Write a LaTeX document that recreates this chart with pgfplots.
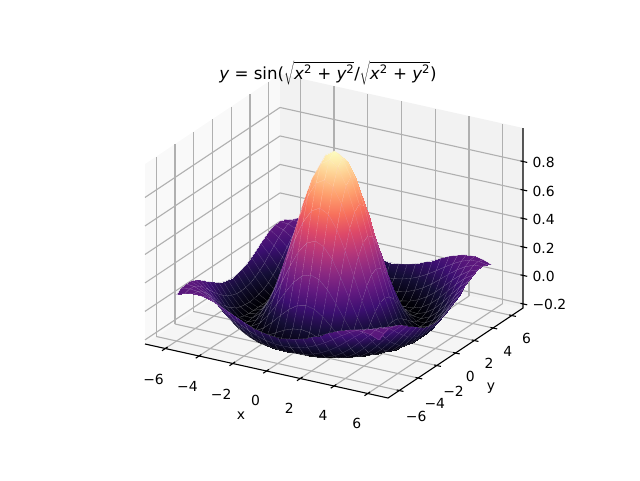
\documentclass[border=0pt]{standalone}
\usepackage{fontspec}
\setmainfont{DejaVu Sans}
\usepackage{pgfplots}
\pgfplotsset{compat=1.18}
\usepgfplotslibrary{patchplots}
\definecolor{gridc}{rgb}{0.69,0.69,0.69}
\pgfplotsset{colormap={magma}{
 rgb255=(0,0,4) rgb255=(20,14,54) rgb255=(59,15,112) rgb255=(100,26,128) rgb255=(140,41,129)
 rgb255=(183,55,121) rgb255=(222,73,104) rgb255=(247,112,92) rgb255=(254,159,109) rgb255=(254,207,146) rgb255=(252,253,191)}}
\newcommand{\rad}{$\sqrt{\hbox{{\itshape x}\textsuperscript{2} + {\itshape y}\textsuperscript{2}}}$}
\newcommand{\ttl}{{\itshape y} = sin(\rad/\rad)}
\begin{document}
\begin{tikzpicture}[x=1pt,y=1pt]
\begin{axis}[
 at={(334pt,186.6pt)}, anchor=origin,
 x={(16.875pt,-3.75pt)}, y={(9.375pt,6.25pt)}, z={(0pt,142.4pt)},
 xmin=-7.2,xmax=7.2,ymin=-7.2,ymax=7.2,zmin=-0.229,zmax=1.035,
 set layers=standard,
 clip=false,
 axis lines=box,
 axis line style={draw=none},
 font=\fontsize{13.89}{16}\selectfont,
 grid=major,
 grid style={gridc,line width=1.1pt},
 xtick={-6,-4,-2,0,2,4,6}, ytick={-6,-4,-2,0,2,4,6}, ztick={-0.2,0,0.2,0.4,0.6,0.8},
 xticklabels={−6,−4,−2,0,2,4,6}, yticklabels={−6,−4,−2,0,2,4,6}, zticklabels={−0.2,0.0,0.2,0.4,0.6,0.8},
 xtick pos=lower, ytick pos=lower, ztick pos=right, zticklabel pos=right,
 major tick length=0pt,
 tick style={draw=none},
 xticklabel style={xshift=-6pt,yshift=-20pt},
 yticklabel style={xshift=7.5pt,yshift=-14pt},
 zticklabel style={xshift=6pt,yshift=-4pt},
 xlabel={x}, ylabel={y},
 xlabel style={at={(axis cs:0,0,0)},anchor=center,xshift=-93pt,yshift=-122.6pt},
 ylabel style={at={(axis cs:0,0,0)},anchor=center,rotate=-90,xshift=157pt,yshift=-94.6pt},
 title={\ttl},
 title style={at={(axis cs:0,0,0)},anchor=center,font=\fontsize{16.67}{20}\selectfont,xshift=-6pt,yshift=214pt},
 colormap name=magma,
 point meta min=-0.217, point meta max=1,
 unbounded coords=jump,
]
\addplot3[on layer=axis background,fill=black!2.5,draw=none,forget plot] coordinates {(-7.2,-7.2,-0.229)(-7.2,7.2,-0.229)(-7.2,7.2,1.035)(-7.2,-7.2,1.035)(-7.2,-7.2,-0.229)};
\addplot3[on layer=axis background,fill=black!5,draw=none,forget plot] coordinates {(-7.2,7.2,-0.229)(7.2,7.2,-0.229)(7.2,7.2,1.035)(-7.2,7.2,1.035)(-7.2,7.2,-0.229)};
\addplot3[on layer=axis background,fill=black!3.75,draw=none,forget plot] coordinates {(-7.2,-7.2,-0.229)(7.2,-7.2,-0.229)(7.2,7.2,-0.229)(-7.2,7.2,-0.229)(-7.2,-7.2,-0.229)};
\addplot3[black,line width=1.1pt,forget plot] coordinates {(-7.2,-7.2,-0.229)(7.2,-7.2,-0.229)(7.2,7.2,-0.229)(7.2,7.2,1.035)};
\addplot3[black,line width=1.1pt,forget plot] table[row sep=\\]{
x y z\\
-6 -7.55 -.229\\ -6 -6.95 -.229\\ nan nan nan\\ -4 -7.55 -.229\\ -4 -6.95 -.229\\ nan nan nan\\ -2 -7.55 -.229\\ -2 -6.95 -.229\\ nan nan nan\\ 0 -7.55 -.229\\ 0 -6.95 -.229\\ nan nan nan\\ 2 -7.55 -.229\\ 2 -6.95 -.229\\ nan nan nan\\ 4 -7.55 -.229\\ 4 -6.95 -.229\\ nan nan nan\\ 6 -7.55 -.229\\ 6 -6.95 -.229\\ nan nan nan\\
7.05 -6 -.229\\ 7.45 -6 -.229\\ nan nan nan\\ 7.05 -4 -.229\\ 7.45 -4 -.229\\ nan nan nan\\ 7.05 -2 -.229\\ 7.45 -2 -.229\\ nan nan nan\\ 7.05 0 -.229\\ 7.45 0 -.229\\ nan nan nan\\ 7.05 2 -.229\\ 7.45 2 -.229\\ nan nan nan\\ 7.05 4 -.229\\ 7.45 4 -.229\\ nan nan nan\\ 7.05 6 -.229\\ 7.45 6 -.229\\ nan nan nan\\
7.05 7.2 -.2\\ 7.45 7.2 -.2\\ nan nan nan\\ 7.05 7.2 0\\ 7.45 7.2 0\\ nan nan nan\\ 7.05 7.2 .2\\ 7.45 7.2 .2\\ nan nan nan\\ 7.05 7.2 .4\\ 7.45 7.2 .4\\ nan nan nan\\ 7.05 7.2 .6\\ 7.45 7.2 .6\\ nan nan nan\\ 7.05 7.2 .8\\ 7.45 7.2 .8\\
};
\addplot3[surf,shader=faceted interp,faceted color=mapped color!65!white,line width=0.1pt,z buffer=sort,mesh/rows=25,mesh/cols=25] table[row sep=\\]{
x y z\\
-6 -6 .095\\ -5.5 -6 .118\\ -5 -6 .128\\ -4.5 -6 .125\\ -4 -6 .111\\ -3.5 -6 .089\\ -3 -6 .062\\ -2.5 -6 .033\\ -2 -6 .007\\ -1.5 -6 -.016\\ -1 -6 -.033\\ -.5 -6 -.043\\ 0 -6 -.047\\ .5 -6 -.043\\ 1 -6 -.033\\ 1.5 -6 -.016\\ 2 -6 .007\\ 2.5 -6 .033\\ 3 -6 .062\\ 3.5 -6 .089\\ 4 -6 .111\\ 4.5 -6 .125\\ 5 -6 .128\\ 5.5 -6 .118\\ 6 -6 .095\\
-6 -5.5 .118\\ -5.5 -5.5 .128\\ -5 -5.5 .123\\ -4.5 -5.5 .103\\ -4 -5.5 .073\\ -3.5 -5.5 .036\\ -3 -5.5 -.003\\ -2.5 -5.5 -.040\\ -2 -5.5 -.071\\ -1.5 -5.5 -.097\\ -1 -5.5 -.114\\ -.5 -5.5 -.125\\ 0 -5.5 -.128\\ .5 -5.5 -.125\\ 1 -5.5 -.114\\ 1.5 -5.5 -.097\\ 2 -5.5 -.071\\ 2.5 -5.5 -.040\\ 3 -5.5 -.003\\ 3.5 -5.5 .036\\ 4 -5.5 .073\\ 4.5 -5.5 .103\\ 5 -5.5 .123\\ 5.5 -5.5 .128\\ 6 -5.5 .118\\
-6 -5 .128\\ -5.5 -5 .123\\ -5 -5 .100\\ -4.5 -5 .064\\ -4 -5 .019\\ -3.5 -5 -.029\\ -3 -5 -.075\\ -2.5 -5 -.114\\ -2 -5 -.145\\ -1.5 -5 -.167\\ -1 -5 -.182\\ -.5 -5 -.189\\ 0 -5 -.192\\ .5 -5 -.189\\ 1 -5 -.182\\ 1.5 -5 -.167\\ 2 -5 -.145\\ 2.5 -5 -.114\\ 3 -5 -.075\\ 3.5 -5 -.029\\ 4 -5 .019\\ 4.5 -5 .064\\ 5 -5 .100\\ 5.5 -5 .123\\ 6 -5 .128\\
-6 -4.5 .125\\ -5.5 -4.5 .103\\ -5 -4.5 .064\\ -4.5 -4.5 .013\\ -4 -4.5 -.043\\ -3.5 -4.5 -.097\\ -3 -4.5 -.142\\ -2.5 -4.5 -.176\\ -2 -4.5 -.199\\ -1.5 -4.5 -.211\\ -1 -4.5 -.216\\ -.5 -4.5 -.217\\ 0 -4.5 -.217\\ .5 -4.5 -.217\\ 1 -4.5 -.216\\ 1.5 -4.5 -.211\\ 2 -4.5 -.199\\ 2.5 -4.5 -.176\\ 3 -4.5 -.142\\ 3.5 -4.5 -.097\\ 4 -4.5 -.043\\ 4.5 -4.5 .013\\ 5 -4.5 .064\\ 5.5 -4.5 .103\\ 6 -4.5 .125\\
-6 -4 .111\\ -5.5 -4 .073\\ -5 -4 .019\\ -4.5 -4 -.043\\ -4 -4 -.104\\ -3.5 -4 -.155\\ -3 -4 -.192\\ -2.5 -4 -.212\\ -2 -4 -.217\\ -1.5 -4 -.212\\ -1 -4 -.202\\ -.5 -4 -.193\\ 0 -4 -.189\\ .5 -4 -.193\\ 1 -4 -.202\\ 1.5 -4 -.212\\ 2 -4 -.217\\ 2.5 -4 -.212\\ 3 -4 -.192\\ 3.5 -4 -.155\\ 4 -4 -.104\\ 4.5 -4 -.043\\ 5 -4 .019\\ 5.5 -4 .073\\ 6 -4 .111\\
-6 -3.5 .089\\ -5.5 -3.5 .036\\ -5 -3.5 -.029\\ -4.5 -3.5 -.097\\ -4 -3.5 -.155\\ -3.5 -3.5 -.196\\ -3 -3.5 -.216\\ -2.5 -3.5 -.213\\ -2 -3.5 -.193\\ -1.5 -3.5 -.162\\ -1 -3.5 -.131\\ -.5 -3.5 -.109\\ 0 -3.5 -.100\\ .5 -3.5 -.109\\ 1 -3.5 -.131\\ 1.5 -3.5 -.162\\ 2 -3.5 -.193\\ 2.5 -3.5 -.213\\ 3 -3.5 -.216\\ 3.5 -3.5 -.196\\ 4 -3.5 -.155\\ 4.5 -3.5 -.097\\ 5 -3.5 -.029\\ 5.5 -3.5 .036\\ 6 -3.5 .089\\
-6 -3 .062\\ -5.5 -3 -.003\\ -5 -3 -.075\\ -4.5 -3 -.142\\ -4 -3 -.192\\ -3.5 -3 -.216\\ -3 -3 -.210\\ -2.5 -3 -.177\\ -2 -3 -.124\\ -1.5 -3 -.063\\ -1 -3 -.007\\ -.5 -3 .033\\ 0 -3 .047\\ .5 -3 .033\\ 1 -3 -.007\\ 1.5 -3 -.063\\ 2 -3 -.124\\ 2.5 -3 -.177\\ 3 -3 -.210\\ 3.5 -3 -.216\\ 4 -3 -.192\\ 4.5 -3 -.142\\ 5 -3 -.075\\ 5.5 -3 -.003\\ 6 -3 .062\\
-6 -2.5 .033\\ -5.5 -2.5 -.040\\ -5 -2.5 -.114\\ -4.5 -2.5 -.176\\ -4 -2.5 -.212\\ -3.5 -2.5 -.213\\ -3 -2.5 -.177\\ -2.5 -2.5 -.109\\ -2 -2.5 -.019\\ -1.5 -2.5 .077\\ -1 -2.5 .161\\ -.5 -2.5 .219\\ 0 -2.5 .239\\ .5 -2.5 .219\\ 1 -2.5 .161\\ 1.5 -2.5 .077\\ 2 -2.5 -.019\\ 2.5 -2.5 -.109\\ 3 -2.5 -.177\\ 3.5 -2.5 -.213\\ 4 -2.5 -.212\\ 4.5 -2.5 -.176\\ 5 -2.5 -.114\\ 5.5 -2.5 -.040\\ 6 -2.5 .033\\
-6 -2 .007\\ -5.5 -2 -.071\\ -5 -2 -.145\\ -4.5 -2 -.199\\ -4 -2 -.217\\ -3.5 -2 -.193\\ -3 -2 -.124\\ -2.5 -2 -.019\\ -2 -2 .109\\ -1.5 -2 .239\\ -1 -2 .352\\ -.5 -2 .428\\ 0 -2 .455\\ .5 -2 .428\\ 1 -2 .352\\ 1.5 -2 .239\\ 2 -2 .109\\ 2.5 -2 -.019\\ 3 -2 -.124\\ 3.5 -2 -.193\\ 4 -2 -.217\\ 4.5 -2 -.199\\ 5 -2 -.145\\ 5.5 -2 -.071\\ 6 -2 .007\\
-6 -1.5 -.016\\ -5.5 -1.5 -.097\\ -5 -1.5 -.167\\ -4.5 -1.5 -.211\\ -4 -1.5 -.212\\ -3.5 -1.5 -.162\\ -3 -1.5 -.063\\ -2.5 -1.5 .077\\ -2 -1.5 .239\\ -1.5 -1.5 .402\\ -1 -1.5 .540\\ -.5 -1.5 .632\\ 0 -1.5 .665\\ .5 -1.5 .632\\ 1 -1.5 .540\\ 1.5 -1.5 .402\\ 2 -1.5 .239\\ 2.5 -1.5 .077\\ 3 -1.5 -.063\\ 3.5 -1.5 -.162\\ 4 -1.5 -.212\\ 4.5 -1.5 -.211\\ 5 -1.5 -.167\\ 5.5 -1.5 -.097\\ 6 -1.5 -.016\\
-6 -1 -.033\\ -5.5 -1 -.114\\ -5 -1 -.182\\ -4.5 -1 -.216\\ -4 -1 -.202\\ -3.5 -1 -.131\\ -3 -1 -.007\\ -2.5 -1 .161\\ -2 -1 .352\\ -1.5 -1 .540\\ -1 -1 .699\\ -.5 -1 .805\\ 0 -1 .841\\ .5 -1 .805\\ 1 -1 .699\\ 1.5 -1 .540\\ 2 -1 .352\\ 2.5 -1 .161\\ 3 -1 -.007\\ 3.5 -1 -.131\\ 4 -1 -.202\\ 4.5 -1 -.216\\ 5 -1 -.182\\ 5.5 -1 -.114\\ 6 -1 -.033\\
-6 -.5 -.043\\ -5.5 -.5 -.125\\ -5 -.5 -.189\\ -4.5 -.5 -.217\\ -4 -.5 -.193\\ -3.5 -.5 -.109\\ -3 -.5 .033\\ -2.5 -.5 .219\\ -2 -.5 .428\\ -1.5 -.5 .632\\ -1 -.5 .805\\ -.5 -.5 .919\\ 0 -.5 .959\\ .5 -.5 .919\\ 1 -.5 .805\\ 1.5 -.5 .632\\ 2 -.5 .428\\ 2.5 -.5 .219\\ 3 -.5 .033\\ 3.5 -.5 -.109\\ 4 -.5 -.193\\ 4.5 -.5 -.217\\ 5 -.5 -.189\\ 5.5 -.5 -.125\\ 6 -.5 -.043\\
-6 0 -.047\\ -5.5 0 -.128\\ -5 0 -.192\\ -4.5 0 -.217\\ -4 0 -.189\\ -3.5 0 -.100\\ -3 0 .047\\ -2.5 0 .239\\ -2 0 .455\\ -1.5 0 .665\\ -1 0 .841\\ -.5 0 .959\\ 0 0 1.000\\ .5 0 .959\\ 1 0 .841\\ 1.5 0 .665\\ 2 0 .455\\ 2.5 0 .239\\ 3 0 .047\\ 3.5 0 -.100\\ 4 0 -.189\\ 4.5 0 -.217\\ 5 0 -.192\\ 5.5 0 -.128\\ 6 0 -.047\\
-6 .5 -.043\\ -5.5 .5 -.125\\ -5 .5 -.189\\ -4.5 .5 -.217\\ -4 .5 -.193\\ -3.5 .5 -.109\\ -3 .5 .033\\ -2.5 .5 .219\\ -2 .5 .428\\ -1.5 .5 .632\\ -1 .5 .805\\ -.5 .5 .919\\ 0 .5 .959\\ .5 .5 .919\\ 1 .5 .805\\ 1.5 .5 .632\\ 2 .5 .428\\ 2.5 .5 .219\\ 3 .5 .033\\ 3.5 .5 -.109\\ 4 .5 -.193\\ 4.5 .5 -.217\\ 5 .5 -.189\\ 5.5 .5 -.125\\ 6 .5 -.043\\
-6 1 -.033\\ -5.5 1 -.114\\ -5 1 -.182\\ -4.5 1 -.216\\ -4 1 -.202\\ -3.5 1 -.131\\ -3 1 -.007\\ -2.5 1 .161\\ -2 1 .352\\ -1.5 1 .540\\ -1 1 .699\\ -.5 1 .805\\ 0 1 .841\\ .5 1 .805\\ 1 1 .699\\ 1.5 1 .540\\ 2 1 .352\\ 2.5 1 .161\\ 3 1 -.007\\ 3.5 1 -.131\\ 4 1 -.202\\ 4.5 1 -.216\\ 5 1 -.182\\ 5.5 1 -.114\\ 6 1 -.033\\
-6 1.5 -.016\\ -5.5 1.5 -.097\\ -5 1.5 -.167\\ -4.5 1.5 -.211\\ -4 1.5 -.212\\ -3.5 1.5 -.162\\ -3 1.5 -.063\\ -2.5 1.5 .077\\ -2 1.5 .239\\ -1.5 1.5 .402\\ -1 1.5 .540\\ -.5 1.5 .632\\ 0 1.5 .665\\ .5 1.5 .632\\ 1 1.5 .540\\ 1.5 1.5 .402\\ 2 1.5 .239\\ 2.5 1.5 .077\\ 3 1.5 -.063\\ 3.5 1.5 -.162\\ 4 1.5 -.212\\ 4.5 1.5 -.211\\ 5 1.5 -.167\\ 5.5 1.5 -.097\\ 6 1.5 -.016\\
-6 2 .007\\ -5.5 2 -.071\\ -5 2 -.145\\ -4.5 2 -.199\\ -4 2 -.217\\ -3.5 2 -.193\\ -3 2 -.124\\ -2.5 2 -.019\\ -2 2 .109\\ -1.5 2 .239\\ -1 2 .352\\ -.5 2 .428\\ 0 2 .455\\ .5 2 .428\\ 1 2 .352\\ 1.5 2 .239\\ 2 2 .109\\ 2.5 2 -.019\\ 3 2 -.124\\ 3.5 2 -.193\\ 4 2 -.217\\ 4.5 2 -.199\\ 5 2 -.145\\ 5.5 2 -.071\\ 6 2 .007\\
-6 2.5 .033\\ -5.5 2.5 -.040\\ -5 2.5 -.114\\ -4.5 2.5 -.176\\ -4 2.5 -.212\\ -3.5 2.5 -.213\\ -3 2.5 -.177\\ -2.5 2.5 -.109\\ -2 2.5 -.019\\ -1.5 2.5 .077\\ -1 2.5 .161\\ -.5 2.5 .219\\ 0 2.5 .239\\ .5 2.5 .219\\ 1 2.5 .161\\ 1.5 2.5 .077\\ 2 2.5 -.019\\ 2.5 2.5 -.109\\ 3 2.5 -.177\\ 3.5 2.5 -.213\\ 4 2.5 -.212\\ 4.5 2.5 -.176\\ 5 2.5 -.114\\ 5.5 2.5 -.040\\ 6 2.5 .033\\
-6 3 .062\\ -5.5 3 -.003\\ -5 3 -.075\\ -4.5 3 -.142\\ -4 3 -.192\\ -3.5 3 -.216\\ -3 3 -.210\\ -2.5 3 -.177\\ -2 3 -.124\\ -1.5 3 -.063\\ -1 3 -.007\\ -.5 3 .033\\ 0 3 .047\\ .5 3 .033\\ 1 3 -.007\\ 1.5 3 -.063\\ 2 3 -.124\\ 2.5 3 -.177\\ 3 3 -.210\\ 3.5 3 -.216\\ 4 3 -.192\\ 4.5 3 -.142\\ 5 3 -.075\\ 5.5 3 -.003\\ 6 3 .062\\
-6 3.5 .089\\ -5.5 3.5 .036\\ -5 3.5 -.029\\ -4.5 3.5 -.097\\ -4 3.5 -.155\\ -3.5 3.5 -.196\\ -3 3.5 -.216\\ -2.5 3.5 -.213\\ -2 3.5 -.193\\ -1.5 3.5 -.162\\ -1 3.5 -.131\\ -.5 3.5 -.109\\ 0 3.5 -.100\\ .5 3.5 -.109\\ 1 3.5 -.131\\ 1.5 3.5 -.162\\ 2 3.5 -.193\\ 2.5 3.5 -.213\\ 3 3.5 -.216\\ 3.5 3.5 -.196\\ 4 3.5 -.155\\ 4.5 3.5 -.097\\ 5 3.5 -.029\\ 5.5 3.5 .036\\ 6 3.5 .089\\
-6 4 .111\\ -5.5 4 .073\\ -5 4 .019\\ -4.5 4 -.043\\ -4 4 -.104\\ -3.5 4 -.155\\ -3 4 -.192\\ -2.5 4 -.212\\ -2 4 -.217\\ -1.5 4 -.212\\ -1 4 -.202\\ -.5 4 -.193\\ 0 4 -.189\\ .5 4 -.193\\ 1 4 -.202\\ 1.5 4 -.212\\ 2 4 -.217\\ 2.5 4 -.212\\ 3 4 -.192\\ 3.5 4 -.155\\ 4 4 -.104\\ 4.5 4 -.043\\ 5 4 .019\\ 5.5 4 .073\\ 6 4 .111\\
-6 4.5 .125\\ -5.5 4.5 .103\\ -5 4.5 .064\\ -4.5 4.5 .013\\ -4 4.5 -.043\\ -3.5 4.5 -.097\\ -3 4.5 -.142\\ -2.5 4.5 -.176\\ -2 4.5 -.199\\ -1.5 4.5 -.211\\ -1 4.5 -.216\\ -.5 4.5 -.217\\ 0 4.5 -.217\\ .5 4.5 -.217\\ 1 4.5 -.216\\ 1.5 4.5 -.211\\ 2 4.5 -.199\\ 2.5 4.5 -.176\\ 3 4.5 -.142\\ 3.5 4.5 -.097\\ 4 4.5 -.043\\ 4.5 4.5 .013\\ 5 4.5 .064\\ 5.5 4.5 .103\\ 6 4.5 .125\\
-6 5 .128\\ -5.5 5 .123\\ -5 5 .100\\ -4.5 5 .064\\ -4 5 .019\\ -3.5 5 -.029\\ -3 5 -.075\\ -2.5 5 -.114\\ -2 5 -.145\\ -1.5 5 -.167\\ -1 5 -.182\\ -.5 5 -.189\\ 0 5 -.192\\ .5 5 -.189\\ 1 5 -.182\\ 1.5 5 -.167\\ 2 5 -.145\\ 2.5 5 -.114\\ 3 5 -.075\\ 3.5 5 -.029\\ 4 5 .019\\ 4.5 5 .064\\ 5 5 .100\\ 5.5 5 .123\\ 6 5 .128\\
-6 5.5 .118\\ -5.5 5.5 .128\\ -5 5.5 .123\\ -4.5 5.5 .103\\ -4 5.5 .073\\ -3.5 5.5 .036\\ -3 5.5 -.003\\ -2.5 5.5 -.040\\ -2 5.5 -.071\\ -1.5 5.5 -.097\\ -1 5.5 -.114\\ -.5 5.5 -.125\\ 0 5.5 -.128\\ .5 5.5 -.125\\ 1 5.5 -.114\\ 1.5 5.5 -.097\\ 2 5.5 -.071\\ 2.5 5.5 -.040\\ 3 5.5 -.003\\ 3.5 5.5 .036\\ 4 5.5 .073\\ 4.5 5.5 .103\\ 5 5.5 .123\\ 5.5 5.5 .128\\ 6 5.5 .118\\
-6 6 .095\\ -5.5 6 .118\\ -5 6 .128\\ -4.5 6 .125\\ -4 6 .111\\ -3.5 6 .089\\ -3 6 .062\\ -2.5 6 .033\\ -2 6 .007\\ -1.5 6 -.016\\ -1 6 -.033\\ -.5 6 -.043\\ 0 6 -.047\\ .5 6 -.043\\ 1 6 -.033\\ 1.5 6 -.016\\ 2 6 .007\\ 2.5 6 .033\\ 3 6 .062\\ 3.5 6 .089\\ 4 6 .111\\ 4.5 6 .125\\ 5 6 .128\\ 5.5 6 .118\\ 6 6 .095\\
};
\end{axis}
\pgfresetboundingbox
\useasboundingbox (0,0) rectangle (640,480);
\end{tikzpicture}
\end{document}
